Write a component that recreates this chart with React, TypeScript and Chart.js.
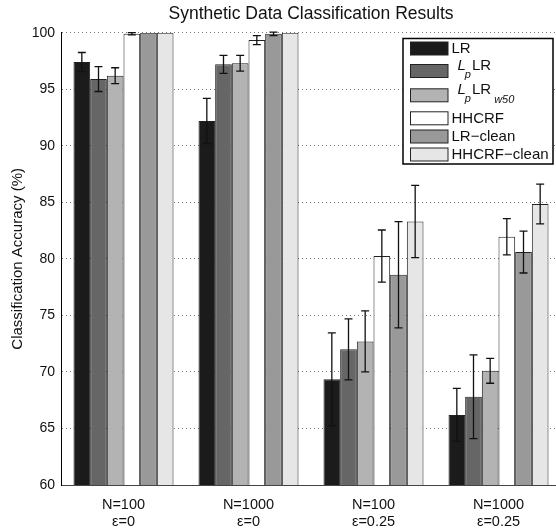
import React, { useEffect, useRef } from "react";
import { Chart, registerables } from "chart.js";

Chart.register(...registerables);

// ---- data ----
const CATEGORIES: string[][] = [
  ["N=100", "ε=0"],
  ["N=1000", "ε=0"],
  ["N=100", "ε=0.25"],
  ["N=1000", "ε=0.25"],
];
const SERIES = ["LR", "L_p LR", "L_p LR_w50", "HHCRF", "LR−clean", "HHCRF−clean"];
const COLORS = ["#1b1b1b", "#666666", "#b3b3b3", "#ffffff", "#999999", "#e6e6e6"];

const LR = [97.4, 92.2, 69.35, 66.2];
const LR_ERR = [0.85, 2.0, 4.1, 2.35];
const LP_LR = [95.9, 97.2, 72.0, 67.8];
const LP_LR_ERR = [1.1, 0.8, 2.7, 3.7];
const LP_LR_W50 = [96.2, 97.3, 72.7, 70.1];
const LP_LR_W50_ERR = [0.7, 0.7, 2.7, 1.1];
const HHCRF = [99.9, 99.35, 80.25, 81.95];
const HHCRF_ERR = [0.1, 0.4, 2.3, 1.6];
const LR_CLEAN = [100, 99.9, 78.6, 80.6];
const LR_CLEAN_ERR = [0, 0.15, 4.7, 1.85];
const HHCRF_CLEAN = [100, 100, 83.3, 84.85];
const HHCRF_CLEAN_ERR = [0, 0, 3.2, 1.75];

const VALUES = [LR, LP_LR, LP_LR_W50, HHCRF, LR_CLEAN, HHCRF_CLEAN];
const ERRORS = [LR_ERR, LP_LR_ERR, LP_LR_W50_ERR, HHCRF_ERR, LR_CLEAN_ERR, HHCRF_CLEAN_ERR];

const Y_TICKS = [60, 65, 70, 75, 80, 85, 90, 95, 100];
const TITLE = "Synthetic Data Classification Results";
const Y_TITLE = "Classification Accuracy (%)";

const FONT = '"Liberation Sans", Arial, Helvetica, sans-serif';

// ---- plugins ----
const errorBarsPlugin = {
  id: "errorBars",
  afterDatasetsDraw(chart: any) {
    const ctx = chart.ctx;
    const y = chart.scales.y;
    chart.data.datasets.forEach((ds: any, i: number) => {
      const meta = chart.getDatasetMeta(i);
      meta.data.forEach((el: any, j: number) => {
        const e = ds.errors[j];
        if (!e) return;
        const v = ds.data[j];
        const yt = y.getPixelForValue(v + e);
        const yb = y.getPixelForValue(v - e);
        ctx.save();
        ctx.strokeStyle = "#111";
        ctx.lineWidth = 1.3;
        ctx.beginPath();
        ctx.moveTo(el.x, yt);
        ctx.lineTo(el.x, yb);
        ctx.moveTo(el.x - 4, yt);
        ctx.lineTo(el.x + 4, yt);
        ctx.moveTo(el.x - 4, yb);
        ctx.lineTo(el.x + 4, yb);
        ctx.stroke();
        ctx.restore();
      });
    });
  },
};

const textPlugin = {
  id: "texts",
  afterDraw(chart: any) {
    const ctx = chart.ctx;
    const a = chart.chartArea;
    ctx.save();
    ctx.fillStyle = "#111";
    ctx.font = `17.5px ${FONT}`;
    ctx.textAlign = "center";
    ctx.textBaseline = "middle";
    ctx.fillText(TITLE, (a.left + a.right) / 2, 14);
    ctx.translate(18, (a.top + a.bottom) / 2);
    ctx.rotate(-Math.PI / 2);
    ctx.font = `15px ${FONT}`;
    ctx.fillText(Y_TITLE, 0, 0);
    ctx.restore();
  },
};

function drawLegendLabel(ctx: any, label: string, x: number, yc: number) {
  const words = label.split(" ");
  const isMath = label.includes("_");
  let cx = x + (isMath ? 6 : 0);
  const mainY = isMath ? yc - 5 : yc + 0.5;
  ctx.textAlign = "left";
  ctx.textBaseline = "middle";
  words.forEach((w, wi) => {
    let main = w;
    let sub = "";
    if (w.includes("_")) {
      [main, sub] = w.split("_");
    }
    const italic = main.length === 1 && sub !== "";
    ctx.font = `${italic ? "italic " : ""}15px ${FONT}`;
    ctx.fillText(main, cx, mainY);
    cx += ctx.measureText(main).width;
    if (sub) {
      ctx.font = `italic 11px ${FONT}`;
      const gap = italic ? -1 : 3;
      ctx.fillText(sub, cx + gap, mainY + (sub.length > 1 ? 10 : 9));
      cx += gap + ctx.measureText(sub).width + 1;
    }
    if (wi < words.length - 1 && !italic) cx += 4;
  });
}

const legendPlugin = {
  id: "customLegend",
  afterDraw(chart: any) {
    const ctx = chart.ctx;
    const bx = 403, by = 38.5, bw = 150, bh = 125.5;
    const centers = [48.5, 71, 95.3, 118.3, 136.5, 154.5];
    ctx.save();
    ctx.fillStyle = "#fff";
    ctx.fillRect(bx, by, bw, bh);
    ctx.strokeStyle = "#000";
    ctx.lineWidth = 1.5;
    ctx.strokeRect(bx, by, bw, bh);
    chart.data.datasets.forEach((ds: any, i: number) => {
      const yc = centers[i];
      ctx.fillStyle = ds.backgroundColor;
      ctx.fillRect(410.5, yc - 6.5, 37.5, 13);
      ctx.strokeStyle = "#222";
      ctx.lineWidth = 1;
      ctx.strokeRect(410.5, yc - 6.5, 37.5, 13);
      ctx.fillStyle = "#111";
      drawLegendLabel(ctx, ds.label, 451.5, yc);
    });
    ctx.restore();
  },
};

export default function App() {
  const ref = useRef<HTMLCanvasElement | null>(null);

  useEffect(() => {
    if (!ref.current) return;
    const chart = new Chart(ref.current, {
      type: "bar",
      data: {
        labels: CATEGORIES as any,
        datasets: SERIES.map((name, i) => ({
          label: name,
          data: VALUES[i],
          errors: ERRORS[i],
          backgroundColor: COLORS[i],
          borderColor: "#222",
          borderWidth: 1,
          categoryPercentage: 0.8,
          barPercentage: 1.0,
        })) as any,
      },
      options: {
        animation: false,
        responsive: false,
        maintainAspectRatio: false,
        devicePixelRatio: 1,
        layout: { padding: { top: 32.7, right: 9, left: 0, bottom: 0 } },
        plugins: {
          legend: { display: false },
          title: { display: false },
          tooltip: { enabled: false },
        },
        scales: {
          x: {
            grid: { display: false },
            border: { display: true, color: "#444", width: 1 },
            ticks: {
              font: { size: 14.5, family: FONT, lineHeight: 1.17 },
              color: "#111",
              padding: 4,
              maxRotation: 0,
              autoSkip: false,
            },
            afterFit(s: any) {
              s.height = 46;
            },
          },
          y: {
            min: 60,
            max: 100,
            afterBuildTicks(s: any) {
              s.ticks = Y_TICKS.map((v) => ({ value: v }));
            },
            afterFit(s: any) {
              s.width = 61;
            },
            ticks: {
              font: { size: 14, family: FONT },
              color: "#111",
              padding: 6,
            },
            grid: { color: "#777", lineWidth: 1, drawTicks: false },
            border: { display: true, color: "#000", width: 1, dash: [1, 3] },
          },
        },
      } as any,
      plugins: [errorBarsPlugin, textPlugin, legendPlugin],
    });
    return () => chart.destroy();
  }, []);

  return (
    <div
      style={{
        position: "fixed",
        left: 0,
        top: 0,
        width: 556,
        height: 531,
        overflow: "hidden",
        background: "#fff",
      }}
    >
      <canvas ref={ref} width={570} height={531} style={{ width: 570, height: 531, display: "block" }} />
    </div>
  );
}
